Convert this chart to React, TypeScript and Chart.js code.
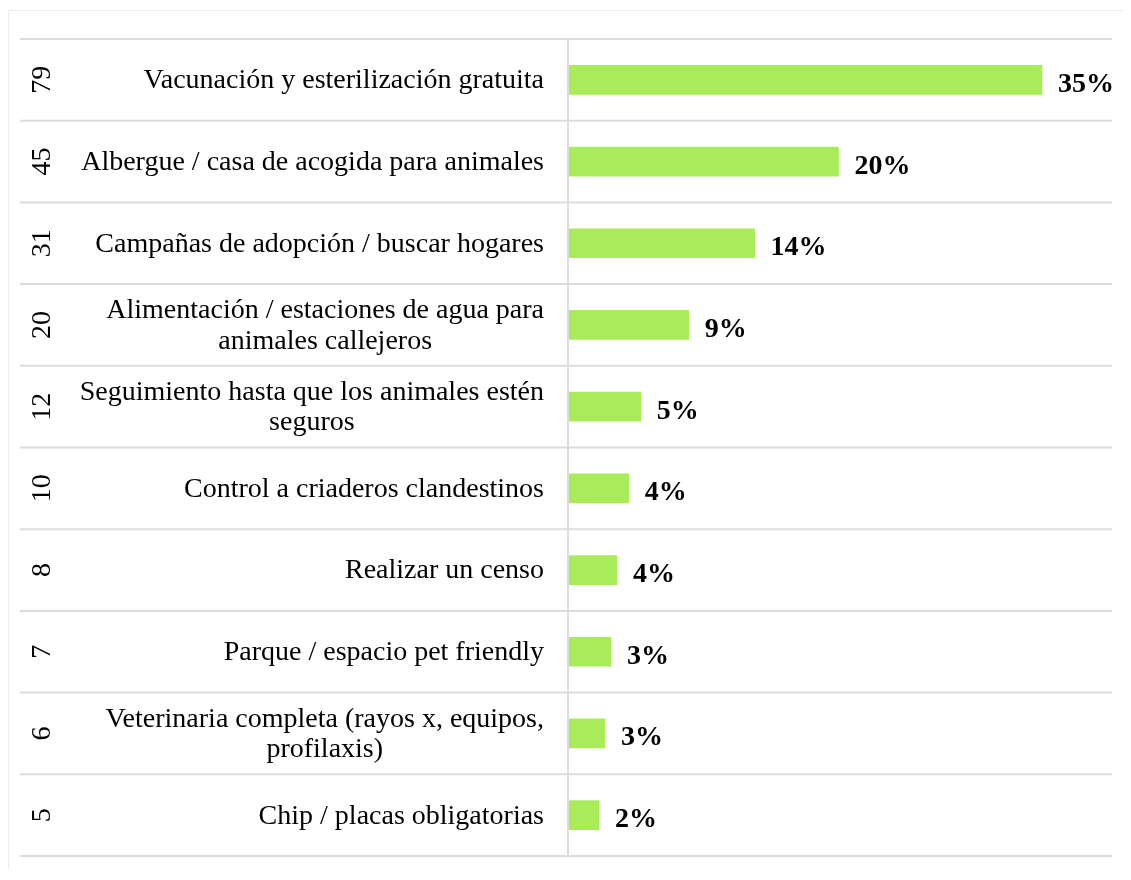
import React, { useEffect, useRef } from "react";
import { Chart, registerables } from "chart.js";

Chart.register(...registerables);

const categories: string[][] = [
  ["Vacunación y esterilización gratuita"],
  ["Albergue / casa de acogida para animales"],
  ["Campañas de adopción / buscar hogares"],
  ["Alimentación / estaciones de agua para", "animales callejeros"],
  ["Seguimiento hasta que los animales estén", "seguros"],
  ["Control a criaderos clandestinos"],
  ["Realizar un censo"],
  ["Parque / espacio pet friendly"],
  ["Veterinaria completa (rayos x, equipos,", "profilaxis)"],
  ["Chip / placas obligatorias"],
];

const counts: number[] = [79, 45, 31, 20, 12, 10, 8, 7, 6, 5];

const percentLabels: string[] = ["35%", "20%", "14%", "9%", "5%", "4%", "4%", "3%", "3%", "2%"];

const BAR_COLOR = "#a9eb58";
const GRID_COLOR = "#dcdcdc";
const FONT = "'Liberation Serif', 'Times New Roman', serif";

const tablePlugin = {
  id: "tablePlugin",
  beforeDatasetsDraw(chart: any) {
    const { ctx, chartArea } = chart;
    const y = chart.scales.y;
    const n = categories.length;
    ctx.save();
    ctx.strokeStyle = GRID_COLOR;
    ctx.lineWidth = 2;
    for (let i = 0; i <= n; i++) {
      let py: number;
      if (i === 0) py = chartArea.top;
      else if (i === n) py = chartArea.bottom;
      else py = (y.getPixelForValue(i - 1) + y.getPixelForValue(i)) / 2;
      ctx.beginPath();
      ctx.moveTo(11, py);
      ctx.lineTo(chartArea.right, py);
      ctx.stroke();
    }
    ctx.beginPath();
    ctx.moveTo(chartArea.left - 1, chartArea.top);
    ctx.lineTo(chartArea.left - 1, chartArea.bottom);
    ctx.stroke();

    ctx.fillStyle = "#000";
    ctx.font = `28px ${FONT}`;
    ctx.textBaseline = "middle";
    ctx.textAlign = "center";
    const lineH = 30.5;
    const rightEdge = chartArea.left - 25;
    categories.forEach((lines, i) => {
      const cy = y.getPixelForValue(i) + 1;
      const widest = Math.max(...lines.map((l) => ctx.measureText(l).width));
      const cx = rightEdge - widest / 2;
      lines.forEach((l, j) => {
        ctx.fillText(l, cx, cy + (j - (lines.length - 1) / 2) * lineH);
      });
    });

    ctx.textBaseline = "alphabetic";
    ctx.textAlign = "center";
    counts.forEach((c, i) => {
      const cy = y.getPixelForValue(i);
      ctx.save();
      ctx.translate(41, cy);
      ctx.rotate(-Math.PI / 2);
      ctx.fillText(String(c), 0, 0);
      ctx.restore();
    });
    ctx.restore();
  },
  afterDatasetsDraw(chart: any) {
    const { ctx } = chart;
    const meta = chart.getDatasetMeta(0);
    ctx.save();
    ctx.fillStyle = "#000";
    ctx.font = `bold 28px ${FONT}`;
    ctx.textAlign = "left";
    ctx.textBaseline = "alphabetic";
    meta.data.forEach((bar: any, i: number) => {
      ctx.fillText(percentLabels[i], bar.x + 16, bar.y + 12);
    });
    ctx.restore();
  },
};

export default function App() {
  const canvasRef = useRef<HTMLCanvasElement | null>(null);

  useEffect(() => {
    if (!canvasRef.current) return;
    const chart = new Chart(canvasRef.current, {
      type: "bar",
      data: {
        labels: categories.map((c) => c.join(" ")),
        datasets: [
          {
            data: counts,
            backgroundColor: BAR_COLOR,
            borderWidth: 0,
            barThickness: 29,
          },
        ],
      },
      options: {
        indexAxis: "y",
        animation: false,
        responsive: false,
        devicePixelRatio: 1,
        layout: { padding: { left: 560, right: 20, top: 28, bottom: 15 } },
        plugins: {
          legend: { display: false },
          tooltip: { enabled: false },
        },
        scales: {
          x: { display: false, min: 0, max: 90.7 },
          y: { display: false },
        },
      },
      plugins: [tablePlugin],
    });
    return () => chart.destroy();
  }, []);

  return (
    <div
      style={{
        position: "relative",
        top: 2,
        borderTop: "1px solid #eeeeee",
        borderLeft: "1px solid #eeeeee",
        width: 1123,
      }}
    >
      <canvas ref={canvasRef} width={1123} height={860} style={{ display: "block" }} />
    </div>
  );
}
